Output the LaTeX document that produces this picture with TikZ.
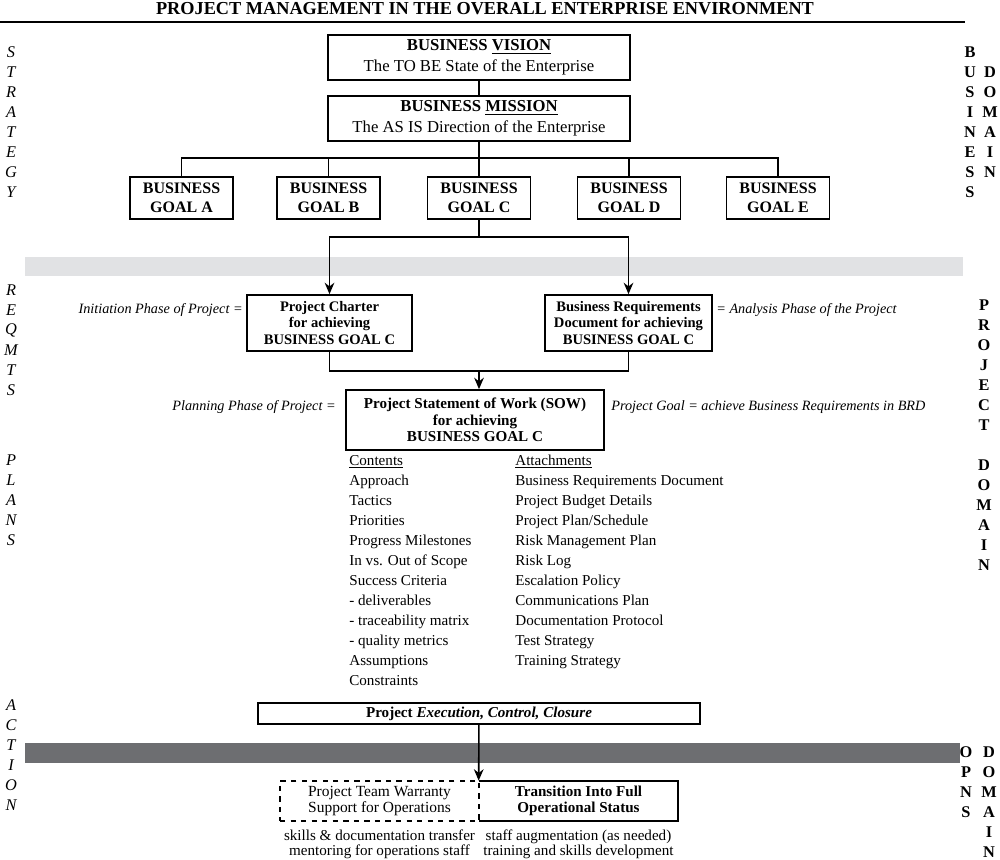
\documentclass[tikz,border=0pt]{standalone}
\usepackage{fontspec}
\setmainfont{Liberation Serif}
\usetikzlibrary{positioning, arrows.meta, calc}
\definecolor{bandL}{RGB}{225,226,228}
\definecolor{bandD}{RGB}{109,110,113}
\tikzset{
  box/.style={draw, line width=1pt, align=center, inner sep=0pt},
  goal/.style={box, font=\bfseries\fontsize{9.1}{10.8}\selectfont, minimum width=2.06cm, minimum height=0.84cm},
  headbox/.style={box, font=\fontsize{9.5}{11.9}\selectfont, minimum width=6.04cm, minimum height=0.9cm},
  doc/.style={box, font=\bfseries\fontsize{8.3}{9.6}\selectfont, minimum height=1.12cm},
  phase/.style={font=\itshape\fontsize{8.1}{10}\selectfont, inner sep=0pt},
  listitem/.style={font=\fontsize{8.6}{10}\selectfont, inner sep=0pt, anchor=base west},
  plain/.style={font=\fontsize{8.6}{9.1}\selectfont, inner sep=0pt, align=center},
  sideit/.style={font=\itshape\fontsize{9.3}{10}\selectfont, inner sep=0pt},
  sidebf/.style={font=\bfseries\fontsize{9.3}{10}\selectfont, inner sep=0pt},
  wire/.style={line width=0.9pt},
  arr/.style={wire, -{Stealth[length=6.5pt,width=5.5pt]}}
}

\begin{document}
\begin{tikzpicture}[x=0.02cm, y=-0.02cm]
    \useasboundingbox (0,0) rectangle (1000,859);

    % Title and rule
    \node[font=\bfseries\fontsize{10.4}{12}\selectfont, inner sep=0pt] (title) at (485,9)
        {PROJECT MANAGEMENT IN THE OVERALL ENTERPRISE ENVIRONMENT};
    \draw[wire] (0,22) -- (965,22);

    % Domain bands
    \fill[bandL] (25,257) rectangle (963,276);
    \fill[bandD] (25,743) rectangle (960,763);

    % Side letters, left
    \foreach \ch [count=\i from 0] in {S,T,R,A,T,E,G,Y}
        \node[sideit] (strat\i) at (11,{52+20*\i}) {\ch};
    \foreach \ch [count=\i from 0] in {R,E,Q,M,T,S}
        \node[sideit] (reqmts\i) at (11,{290+20*\i}) {\ch};
    \foreach \ch [count=\i from 0] in {P,L,A,N,S}
        \node[sideit] (plans\i) at (11,{460+20*\i}) {\ch};
    \foreach \ch [count=\i from 0] in {A,C,T,I,O,N}
        \node[sideit] (action\i) at (11,{705+20*\i}) {\ch};

    % Side letters, right
    \foreach \ch [count=\i from 0] in {B,U,S,I,N,E,S,S}
        \node[sidebf] (bus\i) at (970,{52+20*\i}) {\ch};
    \foreach \ch [count=\i from 0] in {D,O,M,A,I,N}
        \node[sidebf] (busdom\i) at (990,{72+20*\i}) {\ch};
    \foreach \ch [count=\i from 0] in {P,R,O,J,E,C,T}
        \node[sidebf] (proj\i) at (984,{305+20*\i}) {\ch};
    \foreach \ch [count=\i from 0] in {D,O,M,A,I,N}
        \node[sidebf] (projdom\i) at (984,{465+20*\i}) {\ch};
    \foreach \ch [count=\i from 0] in {O,P,N,S}
        \node[sidebf] (opns\i) at (966,{752+20*\i}) {\ch};
    \foreach \ch [count=\i from 0] in {D,O,M,A,I,N}
        \node[sidebf] (opsdom\i) at (989,{752+20*\i}) {\ch};

    % Vision, mission, goals
    \node[headbox] (vision) at (479,57.5) {\textbf{BUSINESS \underline{VISION}}\\The TO BE State of the Enterprise};
    \node[headbox] (mission) at (479,118.5) {\textbf{BUSINESS \underline{MISSION}}\\The AS IS Direction of the Enterprise};
    \foreach \g/\x in {A/181.5, B/328.5, C/479, D/629, E/778}
        \node[goal] (goal\g) at (\x,198) {BUSINESS\\GOAL \g};

    \coordinate (bar) at (479,158);
    \draw[wire] (vision) -- (mission);
    \draw[wire] (mission) -- (goalC);
    \draw[wire] (goalA.north) |- (bar) -| (goalE.north);
    \draw[wire] (goalB.north) -- (goalB.north |- bar);
    \draw[wire] (goalD.north) -- (goalD.north |- bar);

    % Charter and BRD
    \node[doc, minimum width=3.3cm] (charter) at (329.5,323) {Project Charter\\for achieving\\BUSINESS GOAL C};
    \node[doc, minimum width=3.34cm] (brd) at (628.5,323) {Business Requirements\\Document for achieving\\BUSINESS GOAL C};
    \node[phase, anchor=base east] (initiation) at (243,313) {Initiation Phase of Project =};
    \node[phase, anchor=base west] (analysis) at (716,313) {= Analysis Phase of the Project};

    \coordinate (split) at (479,237);
    \draw[wire] (goalC) -- (split);
    \draw[arr] (split) -| (charter.north);
    \draw[arr] (split) -| (brd.north);

    % Statement of work
    \node[doc, minimum width=5.16cm, minimum height=1.2cm, font=\bfseries\fontsize{8.6}{9.4}\selectfont] (sow) at (475,420)
        {Project Statement of Work (SOW)\\for achieving\\BUSINESS GOAL C};
    \node[phase, anchor=base east] (planning) at (336,410) {Planning Phase of Project =};
    \node[phase, anchor=base west] (projgoal) at (611,410) {Project Goal = achieve Business Requirements in BRD};

    \coordinate (merge) at (479,371);
    \draw[wire] (charter) |- (merge) -| (brd);
    \draw[arr] (merge) -- (merge |- sow.north);

    % Contents and attachments
    \node[listitem] (contents) at (349,465) {\underline{Contents}};
    \foreach \t [count=\i] in {Approach, Tactics, Priorities, Progress Milestones, In vs. Out of Scope,
        Success Criteria, - deliverables, - traceability matrix, - quality metrics, Assumptions, Constraints}
        \node[listitem] (cont\i) at (349,{465+20*\i}) {\t};
    \node[listitem] (attach) at (515,465) {\underline{Attachments}};
    \foreach \t [count=\i] in {Business Requirements Document, Project Budget Details, Project Plan/Schedule,
        Risk Management Plan, Risk Log, Escalation Policy, Communications Plan, Documentation Protocol,
        Test Strategy, Training Strategy}
        \node[listitem] (att\i) at (515,{465+20*\i}) {\t};

    % Execution and operations
    \node[box, minimum width=8.84cm, minimum height=0.42cm, font=\bfseries\fontsize{8.6}{10}\selectfont] (exec) at (479,713.5)
        {Project \textit{Execution, Control, Closure}};
    \node[box, dashed, minimum width=3.98cm, minimum height=0.8cm, font=\fontsize{8.8}{9}\selectfont] (warranty) at (379.5,801)
        {Project Team Warranty\\Support for Operations};
    \node[align=center, inner sep=0pt, minimum width=3.98cm, minimum height=0.8cm, font=\bfseries\fontsize{8.6}{9}\selectfont] (transition) at (578.5,801)
        {Transition Into Full\\Operational Status};
    \draw[line width=1pt] (transition.north west) -- (transition.north east) -- (transition.south east) -- (transition.south west);
    \draw[arr] (exec) -- (transition.north west);

    \node[plain, anchor=north] (skills) at (379.5,829) {skills \& documentation transfer\\mentoring for operations staff};
    \node[plain, anchor=north] (staff) at (578.5,829) {staff augmentation (as needed)\\training and skills development};
\end{tikzpicture}
\end{document}
